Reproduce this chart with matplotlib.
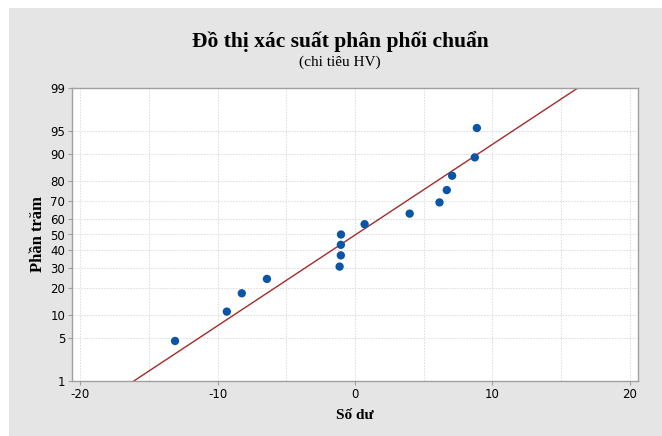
import numpy as np
import matplotlib
matplotlib.use('Agg')
import matplotlib.pyplot as plt
from matplotlib.patches import Rectangle
from statistics import NormalDist

# residuals (sorted)
residuals = [-13.1, -9.33, -8.24, -6.41, -1.12, -1.03, -1.03, -1.02,
             0.70, 3.98, 6.15, 6.68, 7.07, 8.72, 8.87]
y_ticks = [1, 5, 10, 20, 30, 40, 50, 60, 70, 80, 90, 95, 99]
x_ticks = [-20, -10, 0, 10, 20]
x_grid = [-20, -15, -10, -5, 0, 5, 10, 15, 20]

title = 'Đồ thị xác suất phân phối chuẩn'
subtitle = '(chi tiêu HV)'
xlabel = 'Số dư'
ylabel = 'Phần trăm'

plt.rcParams['axes.unicode_minus'] = False

nd = NormalDist()


def _ppf_one(p):
    if not np.isfinite(p):
        return np.nan
    return nd.inv_cdf(min(max(p / 100.0, 1e-9), 1 - 1e-9))


def _cdf_one(z):
    if not np.isfinite(z):
        return np.nan
    return nd.cdf(z) * 100.0


_ppf = np.vectorize(_ppf_one, otypes=[float])
_cdf = np.vectorize(_cdf_one, otypes=[float])

n = len(residuals)
x = np.sort(np.array(residuals))
pct = [(i - 0.3) / (n + 0.4) * 100 for i in range(1, n + 1)]
mu = x.mean()
sd = x.std(ddof=1)

fig = plt.figure(figsize=(6.62, 4.36), dpi=100)
fig.patch.set_facecolor('white')
fig.patches.append(Rectangle((9 / 662, 0), 1, 1 - 8 / 436, transform=fig.transFigure,
                             facecolor='#e5e5e5', edgecolor='none', zorder=-1))

ax = fig.add_axes([72 / 662, 55 / 436, 566 / 662, 293 / 436])
ax.set_facecolor('white')
ax.set_yscale('function', functions=(_ppf, _cdf))
ax.set_xlim(-20.6, 20.6)
ax.set_ylim(1, 99)

# fitted line
zline = np.linspace(-2.5, 2.5, 50)
ax.plot(mu + sd * zline, _cdf(zline), color='#a52a2a', lw=1.0, zorder=2)
ax.scatter(x, pct, s=36, color='#0a55a5', zorder=3, edgecolors='none')

ax.set_yticks(y_ticks)
ax.set_yticklabels([str(v) for v in y_ticks])
ax.set_yticks([], minor=True)
ax.set_xticks(x_ticks)
ax.set_xticks(x_grid, minor=True)
ax.tick_params(axis='both', labelsize=8.5, colors='#a0a0a0', labelcolor='black',
               length=3, width=0.8, pad=2)
ax.tick_params(axis='x', which='minor', length=0)
ax.grid(True, which='both', axis='x', color='#dadada', ls=(0, (1.5, 1.5)), lw=0.7)
ax.grid(True, which='major', axis='y', color='#dadada', ls=(0, (1.5, 1.5)), lw=0.7)
ax.set_axisbelow(True)
for s in ax.spines.values():
    s.set_color('#a0a0a0')
    s.set_linewidth(1.0)

serif = 'Liberation Serif'
fig.text(340 / 662, 1 - 42 / 436, title, ha='center', va='center', family=serif,
         fontweight='bold', fontsize=15.5)
fig.text(340 / 662, 1 - 62 / 436, subtitle, ha='center', va='center', family=serif,
         fontsize=11)
ax.set_xlabel(xlabel, family=serif, fontweight='bold', fontsize=11, labelpad=6)
ax.set_ylabel(ylabel, family=serif, fontweight='bold', fontsize=12, labelpad=3)

fig.savefig('out.png', dpi=100)
